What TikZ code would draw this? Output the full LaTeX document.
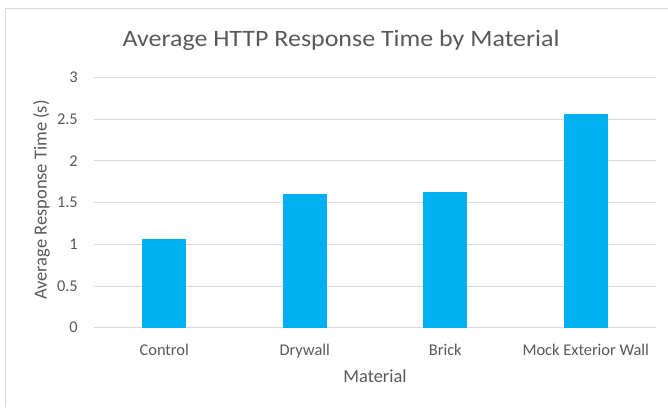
\documentclass[tikz,border=0pt]{standalone}
\usepackage{fontspec}
\setmainfont{Carlito}
\newfontfamily\charttitlefont[FakeStretch=1.105]{Carlito}
\definecolor{txt}{HTML}{595959}
\definecolor{grid}{HTML}{D9D9D9}
\definecolor{bar}{HTML}{00B0F0}
\begin{document}
\begin{tikzpicture}[x=1pt,y=-1pt,
  gridline/.style={draw=grid,line width=1pt},
  barfill/.style={fill=bar},
  ticklab/.style={anchor=base east,inner sep=0pt,text=txt,font=\fontsize{16.4}{18}\selectfont},
  catlab/.style={anchor=base,inner sep=0pt,text=txt,font=\fontsize{16.4}{18}\selectfont},
  axtitle/.style={inner sep=0pt,text=txt,font=\fontsize{18.4}{20}\selectfont},
  charttitle/.style={anchor=base,inner sep=0pt,text=txt,font=\charttitlefont\fontsize{23.5}{26}\selectfont}]
\useasboundingbox (0,0) rectangle (668,407);
\fill[white] (0,0) rectangle (668,407);
% chart border (top and left visible)
\draw[grid,line width=1pt] (5,407) -- (5,8) -- (668,8);
% gridlines
\foreach \v/\lab in {0/0,0.5/0.5,1/1,1.5/1.5,2/2,2.5/2.5,3/3} {
  \draw[gridline] (94,{327.7-83.4*\v}) -- (656,{327.7-83.4*\v});
  \node[ticklab] (t\lab) at (78,{327.7-83.4*\v+5.2}) {\lab};
}
% bars
\foreach \c/\val in {164.25/1.067,304.75/1.607,445.25/1.624,585.75/2.559} {
  \fill[barfill] ({\c-22},327.7) rectangle ({\c+22},{327.7-83.4*\val});
}
% category labels
\node[catlab] (c1) at (164.25,355) {Control};
\node[catlab] (c2) at (304.75,355) {Drywall};
\node[catlab] (c3) at (445.25,355) {Brick};
\node[catlab] (c4) at (585.75,355) {Mock Exterior Wall};
% axis titles
\node[axtitle,anchor=base] (xt) at (375,382.5) {Material};
\node[axtitle,anchor=base,rotate=90] (yt) at (46.5,200) {Average Response Time (s)};
% title
\node[charttitle] (title) at (341,46.7) {Average HTTP Response Time by Material};
\end{tikzpicture}
\end{document}
